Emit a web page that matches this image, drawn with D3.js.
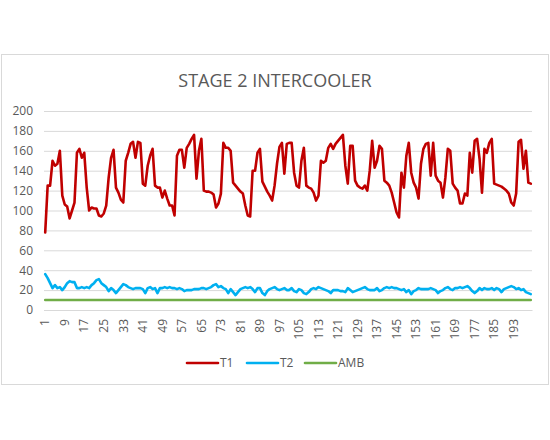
<!DOCTYPE html>
<html>
<head>
<meta charset="utf-8">
<script src="https://cdn.jsdelivr.net/npm/d3@7"></script>
<style>
    body { margin: 0; background: #fff; }
    text { font-family: "Open Sans", sans-serif; fill: #595959; }
</style>
</head>
<body>
<div id="chart"></div>
<script>
const width = 550
const height = 440
const margin = {
    top: 111,
    bottom: 130,
    left: 44,
    right: 18
}

const title = "STAGE 2 INTERCOOLER"
const seriesNames = ["T1", "T2", "AMB"]
const seriesColors = ["#c00000", "#00b0f0", "#70ad47"]
const yTicks = [0, 20, 40, 60, 80, 100, 120, 140, 160, 180, 200]
const tickLabels = [1, 9, 17, 25, 33, 41, 49, 57, 65, 73, 81, 89, 97, 105, 113, 121, 129, 137, 145, 153, 161, 169, 177, 185, 193]

const t1 = [
    78, 125, 125, 150, 145, 147, 160, 115, 106, 104,
    92, 100, 108, 158, 162, 153, 158, 123, 100, 103,
    102, 102, 95, 94, 97, 105, 133, 153, 161, 123,
    118, 111, 108, 150, 158, 167, 169, 153, 169, 168,
    127, 125, 145, 155, 162, 125, 123, 123, 113, 120,
    112, 105, 105, 95, 155, 161, 161, 143, 163, 167,
    172, 176, 132, 160, 172, 120, 119, 119, 118, 116,
    103, 107, 117, 168, 163, 163, 160, 128, 125, 122,
    119, 117, 105, 95, 94, 140, 140, 158, 162, 129,
    124, 119, 115, 110, 125, 147, 164, 168, 137, 167,
    168, 168, 138, 125, 123, 150, 163, 125, 123, 122,
    118, 110, 115, 150, 148, 150, 163, 167, 162, 167,
    170, 173, 176, 145, 127, 165, 165, 130, 125, 123,
    122, 125, 120, 140, 170, 143, 150, 165, 162, 130,
    128, 125, 118, 108, 98, 93, 138, 123, 155, 168,
    138, 128, 123, 112, 147, 162, 167, 168, 135, 168,
    135, 130, 128, 113, 133, 162, 160, 127, 123, 120,
    107, 107, 117, 115, 158, 138, 170, 172, 152, 118,
    162, 158, 168, 172, 127, 126, 125, 124, 122, 120,
    117, 108, 105, 117, 169, 171, 142, 160, 128, 127
]

const t2 = [
    36, 32, 27, 22, 25, 22, 23, 20, 23, 27,
    29, 28, 28, 22, 22, 23, 22, 23, 22, 25,
    27, 30, 31, 27, 25, 23, 19, 22, 20, 17,
    20, 23, 26, 25, 23, 22, 21, 22, 22, 22,
    21, 17, 22, 23, 21, 22, 17, 22, 22, 23,
    22, 23, 22, 22, 21, 22, 21, 19, 20, 20,
    20, 21, 21, 21, 22, 22, 21, 22, 23, 25,
    26, 23, 24, 22, 21, 17, 21, 18, 15, 18,
    21, 22, 23, 22, 23, 21, 18, 22, 22, 17,
    15, 19, 21, 22, 23, 21, 20, 21, 22, 20,
    20, 22, 19, 18, 21, 20, 17, 16, 18, 21,
    22, 21, 23, 22, 21, 20, 19, 17, 20, 20,
    20, 19, 19, 18, 22, 20, 18, 19, 20, 21,
    22, 23, 21, 20, 20, 20, 22, 19, 20, 22,
    23, 22, 23, 22, 22, 21, 20, 21, 18, 20,
    16, 19, 20, 22, 21, 21, 21, 21, 22, 21,
    20, 17, 19, 20, 22, 23, 21, 20, 22, 22,
    23, 22, 23, 24, 22, 19, 17, 19, 22, 20,
    22, 21, 21, 22, 20, 22, 21, 18, 21, 22,
    23, 24, 23, 21, 22, 20, 21, 18, 17, 16
]

const amb = [
    10, 10, 10, 10, 10, 10, 10, 10, 10, 10,
    10, 10, 10, 10, 10, 10, 10, 10, 10, 10,
    10, 10, 10, 10, 10, 10, 10, 10, 10, 10,
    10, 10, 10, 10, 10, 10, 10, 10, 10, 10,
    10, 10, 10, 10, 10, 10, 10, 10, 10, 10,
    10, 10, 10, 10, 10, 10, 10, 10, 10, 10,
    10, 10, 10, 10, 10, 10, 10, 10, 10, 10,
    10, 10, 10, 10, 10, 10, 10, 10, 10, 10,
    10, 10, 10, 10, 10, 10, 10, 10, 10, 10,
    10, 10, 10, 10, 10, 10, 10, 10, 10, 10,
    10, 10, 10, 10, 10, 10, 10, 10, 10, 10,
    10, 10, 10, 10, 10, 10, 10, 10, 10, 10,
    10, 10, 10, 10, 10, 10, 10, 10, 10, 10,
    10, 10, 10, 10, 10, 10, 10, 10, 10, 10,
    10, 10, 10, 10, 10, 10, 10, 10, 10, 10,
    10, 10, 10, 10, 10, 10, 10, 10, 10, 10,
    10, 10, 10, 10, 10, 10, 10, 10, 10, 10,
    10, 10, 10, 10, 10, 10, 10, 10, 10, 10,
    10, 10, 10, 10, 10, 10, 10, 10, 10, 10,
    10, 10, 10, 10, 10, 10, 10, 10, 10, 10
]

const days = t1.map((d, i) => i + 1)
const series = [t1, t2, amb]

const svg = d3.select("div#chart").append("svg").attr("width", width).attr("height", height)

// chart area frame
svg.append("rect")
    .attr("x", 1.5).attr("y", 54.5)
    .attr("width", 547).attr("height", 330)
    .attr("fill", "#fff")
    .attr("stroke", "#d9d9d9")

const x = d3.scaleBand().domain(days).range([margin.left, width - margin.right])
const y = d3.scaleLinear().domain([0, 200]).range([height - margin.bottom, margin.top])
const cx = d => x(d) + x.bandwidth() / 2

const yAxis = d3.axisLeft(y).tickValues(yTicks).tickSize(-(width - margin.left - margin.right)).tickPadding(11)
const yAxisGroup = svg.append("g").attr("class", "yAxisGroup").attr("transform", `translate(${margin.left}, 0)`).call(yAxis)
yAxisGroup.select(".domain").remove()
yAxisGroup.selectAll("line").attr("stroke", "#d9d9d9")
yAxisGroup.selectAll("text").attr("font-size", 12).attr("font-family", null).attr("fill", "#595959")

const xAxis = d3.axisBottom(x).tickValues(tickLabels).tickSize(0)
const xAxisGroup = svg.append("g").attr("class", "xAxisGroup").attr("transform", `translate(0, ${height - margin.bottom})`).call(xAxis)
xAxisGroup.select(".domain").attr("stroke", "#d9d9d9")
xAxisGroup.selectAll("text")
    .attr("font-size", 12).attr("font-family", null).attr("fill", "#595959")
    .attr("text-anchor", "end")
    .attr("transform", "rotate(-90)")
    .attr("x", -9).attr("y", 0).attr("dy", "0.35em")

const line = d3.line()
    .x((d, i) => cx(days[i]))
    .y(d => y(d))

const elementGroup = svg.append("g").attr("class", "elementGroup")
elementGroup.selectAll("path").data(series.slice().reverse()).enter()
    .append("path")
    .attr("d", line)
    .attr("fill", "none")
    .attr("stroke", (d, i) => seriesColors[series.length - 1 - i])
    .attr("stroke-width", 2.6)
    .attr("stroke-linejoin", "round")
    .attr("stroke-linecap", "round")

svg.append("text")
    .attr("x", 275).attr("y", 87)
    .attr("text-anchor", "middle")
    .attr("font-size", 18)
    .text(title)

const legendX = [187, 247, 305]
const legend = svg.append("g").attr("class", "legend")
const items = legend.selectAll("g").data(seriesNames).enter().append("g")
    .attr("transform", (d, i) => `translate(${legendX[i]}, 363)`)
items.append("line")
    .attr("x1", 0).attr("x2", 31)
    .attr("stroke", (d, i) => seriesColors[i])
    .attr("stroke-width", 2.6)
    .attr("stroke-linecap", "round")
items.append("text")
    .attr("x", 33).attr("dy", "0.35em")
    .attr("font-size", 12)
    .text(d => d)
</script>
</body>
</html>
